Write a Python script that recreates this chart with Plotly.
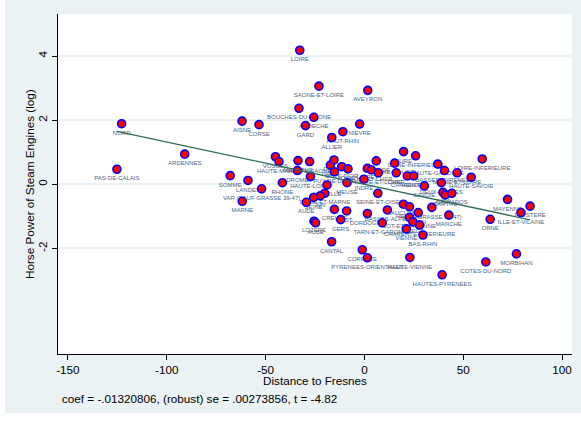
import numpy as np
import plotly.graph_objects as go

# Added-variable plot: log horse power of steam engines vs distance to Fresnes
departments = [
    "LOIRE", "SAONE-ET-LOIRE", "AVEYRON", "BOUCHES-DU-RHONE", "ARDECHE", "GARD",
    "NIEVRE", "HAUT-RHIN", "ALLIER", "NORD", "AISNE", "CORSE", "ARDENNES",
    "PAS-DE-CALAIS", "SOMME", "LANDES", "VAR (SAUF GRASSE 39-47)", "MARNE", "RHONE",
    "VOSGES", "HAUTE-MARNE", "MEURTHE", "DROME", "HAUTE-SAONE", "HAUTE-LOIRE",
    "ISERE", "DOUBS", "PUY-DE-DOME", "COTE-D'OR", "OISE", "MOSELLE", "MEUSE",
    "SEINE-ET-MARNE", "AIN", "SEINE", "AUDE", "CREUSE", "LOT", "GERS", "LOZERE",
    "AUBE", "CANTAL", "EURE", "SEINE-INFERIEURE", "GIRONDE", "EURE-ET-LOIR",
    "LOIRET", "LOIR-ET-CHER", "INDRE-ET-LOIRE", "INDRE", "CHER", "CHARENTE",
    "VENDEE", "HAUTE-GARONNE", "BASSES-PYRENEES", "MAINE-ET-LOIRE", "HAUTE-SAVOIE",
    "LOIRE-INFERIEURE", "DEUX-SEVRES", "SAVOIE", "JURA", "SARTHE", "CALVADOS",
    "SEINE-ET-OISE", "VAUCLUSE", "HERAULT", "TARN", "VAR (GRASSE 39-47)", "MANCHE",
    "BASSES-ALPES", "DORDOGNE", "TARN-ET-GARONNE", "LOT-ET-GARONNE", "ARIEGE",
    "CHARENTE-INFERIEURE", "VIENNE", "BAS-RHIN", "CORREZE", "PYRENEES-ORIENTALES",
    "HAUTE-VIENNE", "HAUTES-PYRENEES", "COTES-DU-NORD", "MORBIHAN", "MAYENNE",
    "FINISTERE", "ILLE-ET-VILAINE", "ORNE",
]

distance_resid = [
    -32.7, -23.0, 1.7, -33.1, -25.6, -29.8,
    -2.4, -10.9, -16.5, -122.8, -61.9, -53.3, -90.9,
    -125.2, -67.9, -58.9, -52.0, -61.8, -41.5,
    -45.0, -43.2, -33.6, -33.9, -27.7, -27.3,
    -17.2, -15.4, -15.2, -11.5, -8.3, -18.9, -8.8,
    -20.1, -22.3, -25.7, -29.4, -15.2, -9.0, -12.0, -25.5,
    -24.7, -16.6, 19.8, 25.9, 6.0, 15.3,
    1.5, 3.5, 7.0, -0.3, 16.1, 21.7,
    24.9, 37.1, 40.5, 46.9, 54.0,
    59.6, 38.9, 30.3, 39.7, 40.9, 44.2,
    6.8, 19.7, 22.8, 27.2, 34.1, 42.7,
    11.6, 1.5, 9.0, 22.8, 24.5,
    27.9, 21.2, 29.6, -1.1, 1.5,
    23.0, 39.3, 61.4, 76.9, 72.4,
    83.8, 79.2, 63.6,
]

hp_resid = [
    4.18, 3.06, 2.93, 2.37, 2.09, 1.83,
    1.88, 1.64, 1.46, 1.89, 1.97, 1.86, 0.94,
    0.47, 0.27, 0.12, -0.14, -0.53, 0.05,
    0.86, 0.71, 0.74, 0.43, 0.71, 0.24,
    0.60, 0.76, 0.39, 0.55, 0.48, -0.02, 0.05,
    -0.28, -0.36, -0.41, -0.56, -0.78, -0.83, -1.10, -1.15,
    -1.20, -1.79, 1.02, 0.89, 0.73, 0.66,
    0.50, 0.45, 0.36, 0.16, 0.36, 0.26,
    0.26, 0.63, 0.43, 0.36, 0.22,
    0.79, 0.05, -0.05, -0.25, -0.33, -0.28,
    -0.28, -0.62, -0.70, -0.88, -0.72, -0.96,
    -0.80, -0.91, -1.20, -1.03, -1.17,
    -1.27, -1.39, -1.58, -2.04, -2.29,
    -2.28, -2.82, -2.42, -2.17, -0.47,
    -0.68, -0.88, -1.09,
]

coef = -0.01320806
se_robust = 0.00273856
t_stat = -4.82

x_ticks = [-150, -100, -50, 0, 50, 100]
y_ticks = [-2, 0, 2, 4]

BG = "#eaf2f3"
LABEL_COLOR = "#4a6585"
FONT = "Liberation Sans, Arial, sans-serif"

x = np.array(distance_resid)
y = np.array(hp_resid)

# Fitted line: both residual series are centred, so the line passes through the origin
x_fit = np.array([x.min(), x.max()])
y_fit = coef * x_fit

fig = go.Figure()

# department labels under each marker (drawn first so the markers sit on top);
# an invisible marker of the same size sets the label offset
fig.add_trace(go.Scatter(
    x=x, y=y, mode="markers+text", text=departments, textposition="bottom center",
    marker=dict(size=9, opacity=0),
    textfont=dict(size=6, color=LABEL_COLOR, family=FONT),
    hoverinfo="skip", showlegend=False,
))

fig.add_trace(go.Scatter(
    x=x, y=y, mode="markers",
    marker=dict(size=8, color="#ff0000", line=dict(color="#0000ff", width=1.6)),
    showlegend=False,
))

fig.add_trace(go.Scatter(
    x=x_fit, y=y_fit, mode="lines",
    line=dict(color="#2e6b58", width=1.3),
    showlegend=False,
))

W, H = 581, 423
ML, MR, MT, MB = 58, 9, 14, 69
pw, ph = W - ML - MR, H - MT - MB


def px_to_paper_x(px):
    return (px - ML) / pw


def px_to_paper_y(py):
    return (H - MB - py) / ph


# white strips along the left and bottom edges of the graph region
fig.add_shape(type="rect", xref="paper", yref="paper",
              x0=px_to_paper_x(0), x1=px_to_paper_x(5),
              y0=px_to_paper_y(H), y1=px_to_paper_y(0),
              fillcolor="white", line=dict(width=0), layer="below")
fig.add_shape(type="rect", xref="paper", yref="paper",
              x0=px_to_paper_x(0), x1=px_to_paper_x(W),
              y0=px_to_paper_y(H), y1=px_to_paper_y(413),
              fillcolor="white", line=dict(width=0), layer="below")

# axis titles
fig.add_annotation(
    xref="paper", yref="paper",
    x=px_to_paper_x(315), y=px_to_paper_y(380),
    xanchor="center", yanchor="middle", showarrow=False,
    text="Distance to Fresnes",
    font=dict(size=11.7, color="#000000", family=FONT),
)
fig.add_annotation(
    xref="paper", yref="paper",
    x=px_to_paper_x(29), y=px_to_paper_y(184),
    xanchor="center", yanchor="middle", showarrow=False, textangle=-90,
    text="Horse Power of Steam Engines (log)",
    font=dict(size=11.7, color="#000000", family=FONT),
)

fig.add_annotation(
    xref="paper", yref="paper",
    x=px_to_paper_x(60), y=px_to_paper_y(398),
    xanchor="left", yanchor="middle", showarrow=False,
    text=f"coef = {coef:.8f}".replace("0.", ".", 1)
    + f", (robust) se = {se_robust:.8f}".replace("0.", ".", 1)
    + f", t = {t_stat:.2f}",
    font=dict(size=11.7, color="#000000", family=FONT),
)

fig.update_layout(
    width=W, height=H,
    margin=dict(l=ML, r=MR, t=MT, b=MB, autoexpand=False),
    paper_bgcolor=BG, plot_bgcolor="white",
    font=dict(family=FONT, size=11.7, color="#000000"),
    showlegend=False,
    xaxis=dict(
        range=[-155, 105], tickmode="array", tickvals=x_ticks,
        ticktext=[str(v) for v in x_ticks],
        showgrid=False, zeroline=False,
        showline=True, linecolor="#000000", linewidth=1,
        ticks="outside", ticklen=5, tickcolor="#000000", tickwidth=1,
        tickfont=dict(size=11.7, family=FONT),
        automargin=False,
    ),
    yaxis=dict(
        range=[-5.29, 5.31], tickmode="array", tickvals=y_ticks,
        ticktext=[str(v) for v in y_ticks], tickangle=-90,
        showgrid=True, gridcolor=BG, gridwidth=1.5, zeroline=False,
        showline=True, linecolor="#000000", linewidth=1,
        ticks="outside", ticklen=5, tickcolor="#000000", tickwidth=1,
        tickfont=dict(size=11.7, family=FONT),
        automargin=False,
    ),
)

fig.write_html("out.html")
